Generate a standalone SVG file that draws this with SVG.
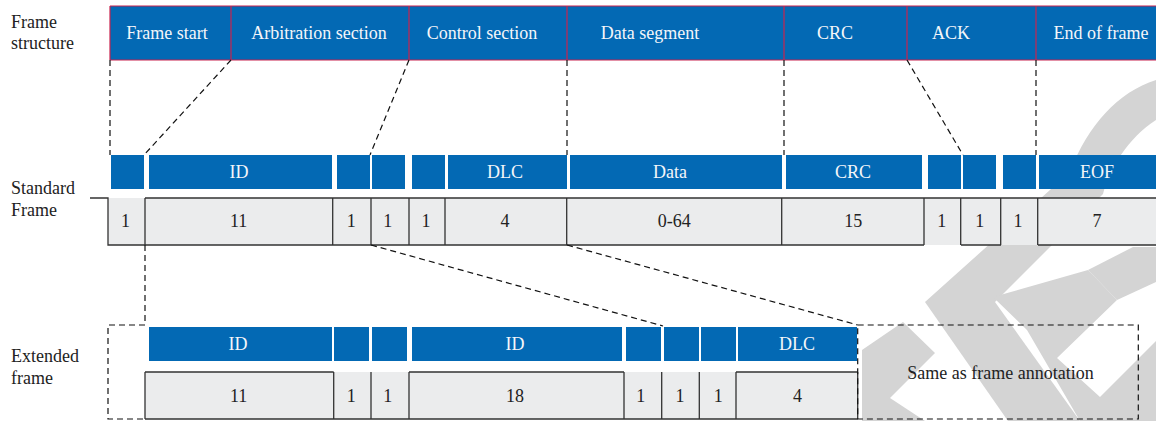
<svg xmlns="http://www.w3.org/2000/svg" width="1156" height="421" viewBox="0 0 1156 421">
<defs>
<style>
text{font-family:"Liberation Serif","Times New Roman",serif;font-size:18px}
.lbl{fill:#222}
.wt{fill:#f4f6fa;text-anchor:middle}
.bt{fill:#222;text-anchor:middle}
.blue{fill:#0369b4}
.cell{fill:#ebeced}
.ln{stroke:#333;stroke-width:1.3;fill:none}
.red{stroke:#c8234f;stroke-width:1.2;fill:none}
.dash{stroke:#111;stroke-width:1.2;fill:none;stroke-dasharray:6 4}
.wm{fill:#d4d4d4}
</style>
</defs>
<rect width="1156" height="421" fill="#ffffff"/>
<g id="watermark">
<path class="wm" d="M1156,80 C1118,92 1088,125 1070,172 L925,302 L995,302 L1103,194 C1110,168 1128,138 1156,120 Z"/>
<path class="wm" d="M925,302 L995,302 L1080,421 L1008,421 Z"/>
<path class="wm" d="M993,297 L1088,270 L1117,300 L1057,358 L1100,397 L1156,341 L1156,421 L1080,421 L1027,330 Z"/>
<path class="wm" d="M1088,270 L1133,247 L1156,247 L1156,282 L1117,300 Z"/>
<path class="wm" d="M862,350 L903,322 L935,353 L890,398 L925,421 L862,421 Z"/>
</g>
<g id="labels">
<text class="lbl" x="11" y="28">Frame</text>
<text class="lbl" x="11" y="49">structure</text>
<text class="lbl" x="11" y="194">Standard</text>
<text class="lbl" x="11" y="216">Frame</text>
<text class="lbl" x="11" y="362">Extended</text>
<text class="lbl" x="11" y="384">frame</text>
</g>
<g id="frame-structure">
<rect class="blue" x="110" y="6" width="1046" height="54"/>
<path class="red" d="M110,6 H1156 M110,60 H1156 M110,6 V60 M231,6 V60 M409,6 V60 M567,6 V60 M784,6 V60 M907,6 V60 M1036,6 V60"/>
<text class="wt" x="167" y="39">Frame start</text>
<text class="wt" x="319" y="39">Arbitration section</text>
<text class="wt" x="482" y="39">Control section</text>
<text class="wt" x="650" y="39">Data segment</text>
<text class="wt" x="835" y="39">CRC</text>
<text class="wt" x="951" y="39">ACK</text>
<text class="wt" x="1101" y="39">End of frame</text>
</g>
<g id="standard-fields">
<rect class="blue" x="111" y="155" width="33" height="34"/>
<rect class="blue" x="149" y="155" width="183" height="34"/>
<rect class="blue" x="337" y="155" width="33" height="34"/>
<rect class="blue" x="372" y="155" width="33" height="34"/>
<rect class="blue" x="412" y="155" width="33" height="34"/>
<rect class="blue" x="448" y="155" width="119" height="34"/>
<rect class="blue" x="570" y="155" width="212" height="34"/>
<rect class="blue" x="786" y="155" width="136" height="34"/>
<rect class="blue" x="928" y="155" width="33" height="34"/>
<rect class="blue" x="963" y="155" width="33" height="34"/>
<rect class="blue" x="1003" y="155" width="33" height="34"/>
<rect class="blue" x="1039" y="155" width="117" height="34"/>
<text class="wt" x="239" y="178">ID</text>
<text class="wt" x="505" y="178">DLC</text>
<text class="wt" x="670" y="178">Data</text>
<text class="wt" x="853" y="178">CRC</text>
<text class="wt" x="1097" y="178">EOF</text>
</g>
<g id="standard-bits">
<rect class="cell" x="108" y="198" width="1048" height="47"/>
<path class="ln" d="M90,198 H108 V245 H924 M145,198 H1156 M961,245 H1001 M1038,245 H1156 M145,198 V245 M332.7,198 V245 M371,198 V245 M409,198 V245 M445,198 V245 M566.7,198 V245 M781.7,198 V245 M924,198 V245 M960.7,198 V245 M1000.7,198 V245 M1037.7,198 V245"/>
<text class="bt" x="125.5" y="227">1</text>
<text class="bt" x="238.7" y="227">11</text>
<text class="bt" x="351.3" y="227">1</text>
<text class="bt" x="387.7" y="227">1</text>
<text class="bt" x="426" y="227">1</text>
<text class="bt" x="505" y="227">4</text>
<text class="bt" x="674.3" y="227">0-64</text>
<text class="bt" x="853.3" y="227">15</text>
<text class="bt" x="941.7" y="227">1</text>
<text class="bt" x="979.7" y="227">1</text>
<text class="bt" x="1018" y="227">1</text>
<text class="bt" x="1097" y="227">7</text>
</g>
<g id="extended-fields">
<rect class="blue" x="149" y="327" width="183" height="34"/>
<rect class="blue" x="334" y="327" width="35" height="34"/>
<rect class="blue" x="372" y="327" width="35" height="34"/>
<rect class="blue" x="412" y="327" width="210" height="34"/>
<rect class="blue" x="626" y="327" width="35" height="34"/>
<rect class="blue" x="664" y="327" width="35" height="34"/>
<rect class="blue" x="701" y="327" width="35" height="34"/>
<rect class="blue" x="738" y="327" width="119" height="34"/>
<text class="wt" x="238" y="350">ID</text>
<text class="wt" x="515" y="350">ID</text>
<text class="wt" x="797" y="350">DLC</text>
</g>
<g id="extended-bits">
<rect class="cell" x="145" y="372" width="713" height="47"/>
<path class="ln" d="M145,419 H857.7 M145,372 H333.7 M409,372 H624 M736,372 H857.7 M145,372 V419 M333.7,372 V419 M371,372 V419 M409,372 V419 M624,372 V419 M661.7,372 V419 M699.3,372 V419 M736,372 V419 M857.7,372 V419"/>
<text class="bt" x="238.7" y="402">11</text>
<text class="bt" x="351.3" y="402">1</text>
<text class="bt" x="387.7" y="402">1</text>
<text class="bt" x="515" y="402">18</text>
<text class="bt" x="640.7" y="402">1</text>
<text class="bt" x="680" y="402">1</text>
<text class="bt" x="718.3" y="402">1</text>
<text class="bt" x="797.5" y="402">4</text>
</g>
<g id="annotation">
<rect class="dash" x="857.7" y="325" width="280.6" height="94"/>
<text class="bt" x="1000.5" y="379">Same as frame annotation</text>
</g>
<g id="connectors">
<path class="dash" d="M110,60 V155"/>
<path class="dash" d="M231,60 L144,155"/>
<path class="dash" d="M409,60 L370,155"/>
<path class="dash" d="M567,60 V155"/>
<path class="dash" d="M784,60 V155"/>
<path class="dash" d="M907,60 L963,155"/>
<path class="dash" d="M1036,60 V155"/>
<path class="dash" d="M371,245 L663,326"/>
<path class="dash" d="M567,245 L857.7,325"/>
<path class="dash" d="M145,245 V325 H108 V419 H145"/>
</g>
</svg>
